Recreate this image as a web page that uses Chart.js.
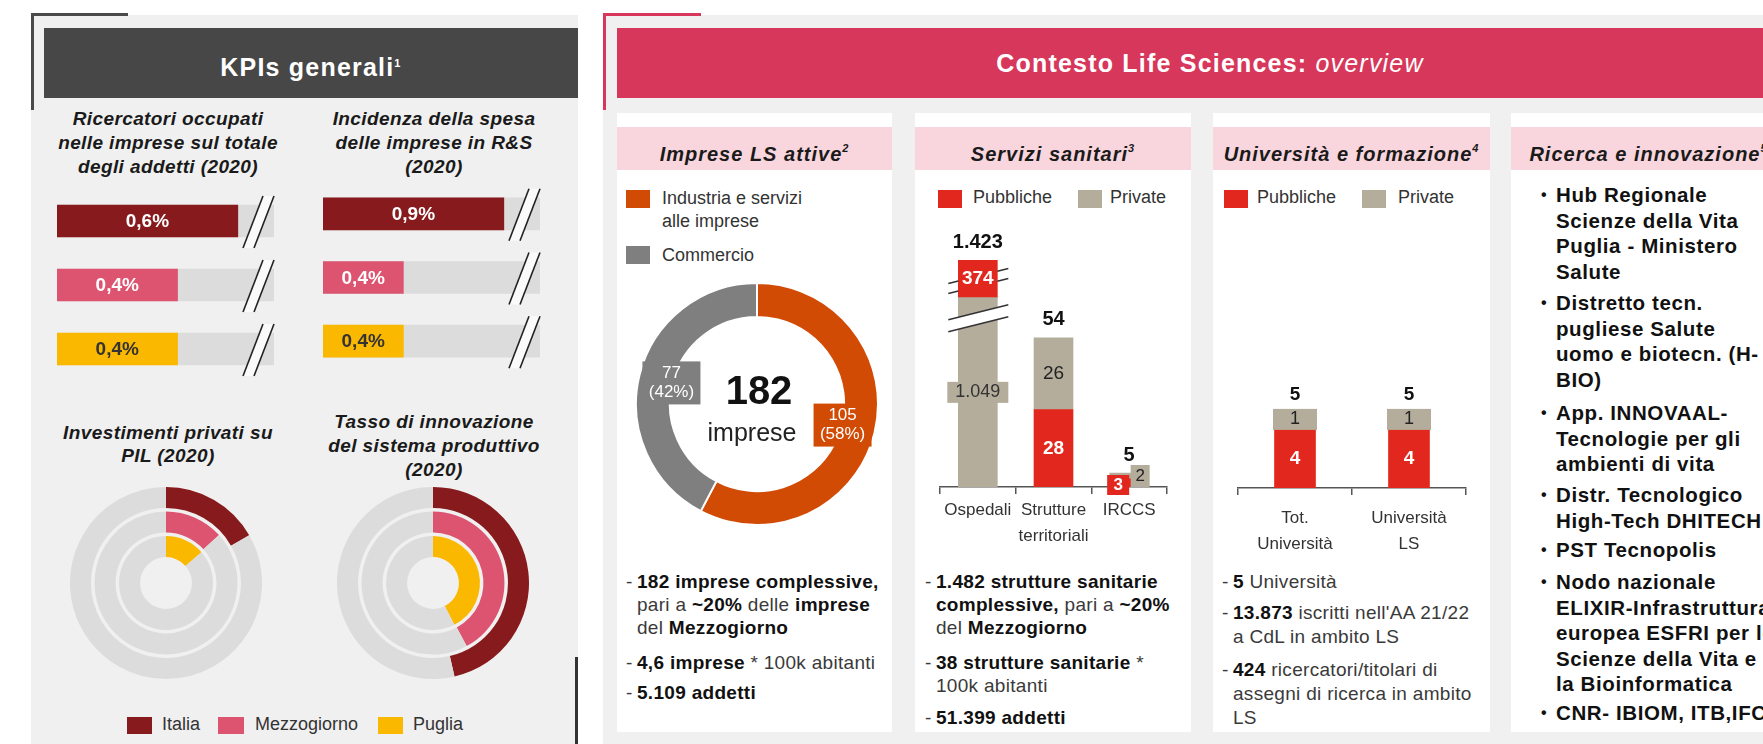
<!DOCTYPE html>
<html>
<head>
<meta charset="utf-8">
<script src="https://cdn.jsdelivr.net/npm/chart.js@4.4.0/dist/chart.umd.min.js"></script>
<style>
  body { margin: 0; background: #fff; font-family: "Liberation Sans", Arial, sans-serif; color: #1a1a1a; }
  #page { position: relative; width: 1763px; height: 744px; overflow: hidden; background: #fff; }
  .a { position: absolute; }
  canvas { position: absolute; }
  .panel { background: #f0f0f0; }
  .card { background: #fff; top: 113px; height: 619px; }
  .chead { position: absolute; top: 127px; height: 43px; line-height: 43px; background: #f9d6dd;
           text-align: center; font-weight: bold; font-style: italic; font-size: 20px; letter-spacing: 1px; white-space: nowrap; }
  .chead sup, .title sup { font-size: 11px; vertical-align: 9px; }
  .title { color: #fff; font-weight: bold; font-size: 25px; height: 70px; line-height: 70px; text-align: center; white-space: nowrap; letter-spacing: 1.2px; }
  .sub { font-weight: bold; font-style: italic; font-size: 19px; text-align: center; width: 270px; letter-spacing: 0.4px; }
  .sq { position: absolute; }
  .leg { position: absolute; font-size: 18px; color: #333; white-space: nowrap; }
  .b { position: absolute; font-size: 19px; line-height: 23px; padding-left: 11px; color: #3a3a3a; white-space: nowrap; letter-spacing: 0.3px; }
  .b b { color: #111; }
  .b .d { position: absolute; left: 0; top: 0; }
  .r { position: absolute; left: 1556px; font-size: 20.5px; font-weight: bold; line-height: 25.5px; color: #111; white-space: nowrap; letter-spacing: 0.6px; }
  .r .dot { position: absolute; left: -15px; top: 0; font-size: 16px; }
</style>
</head>
<body>
<div id="page">
  <!-- pannello KPI -->
  <div class="a panel" style="left:31px;top:15px;width:547px;height:729px"></div>
  <div class="a" style="left:31px;top:13px;width:97px;height:3px;background:#4a4a4a"></div>
  <div class="a" style="left:31px;top:13px;width:3px;height:97px;background:#4a4a4a"></div>
  <div class="a title" style="left:44px;top:28px;width:534px;background:#474747">KPIs generali<sup>1</sup></div>
  <div class="a" style="left:575px;top:657px;width:3px;height:87px;background:#333"></div>

  <div class="a sub" style="left:33px;top:107px;line-height:24px">Ricercatori occupati<br>nelle imprese sul totale<br>degli addetti (2020)</div>
  <div class="a sub" style="left:299px;top:107px;line-height:24px">Incidenza della spesa<br>delle imprese in R&amp;S<br>(2020)</div>
  <div class="a sub" style="left:33px;top:421px;line-height:23px">Investimenti privati su<br>PIL (2020)</div>
  <div class="a sub" style="left:299px;top:410px;line-height:24px">Tasso di innovazione<br>del sistema produttivo<br>(2020)</div>

  <canvas id="kpi1" width="225" height="192" style="left:57px;top:189px"></canvas>
  <canvas id="kpi2" width="225" height="191" style="left:323px;top:182px"></canvas>
  <canvas id="rad1" width="192" height="192" style="left:70px;top:487px"></canvas>
  <canvas id="rad2" width="192" height="192" style="left:337px;top:487px"></canvas>

  <div class="sq" style="left:127px;top:717px;width:25px;height:17px;background:#861a1c"></div>
  <div class="leg" style="left:162px;top:714px">Italia</div>
  <div class="sq" style="left:218px;top:717px;width:26px;height:17px;background:#dd5471"></div>
  <div class="leg" style="left:255px;top:714px">Mezzogiorno</div>
  <div class="sq" style="left:378px;top:717px;width:25px;height:17px;background:#fbb800"></div>
  <div class="leg" style="left:413px;top:714px">Puglia</div>

  <!-- pannello Life Sciences -->
  <div class="a panel" style="left:603px;top:15px;width:1160px;height:729px"></div>
  <div class="a" style="left:603px;top:13px;width:98px;height:3px;background:#d7375a"></div>
  <div class="a" style="left:603px;top:13px;width:3px;height:97px;background:#d7375a"></div>
  <div class="a" style="left:617px;top:28px;width:1146px;height:70px;background:#d7375a"></div>
  <div class="a title" style="left:617px;top:28px;width:1186px">Contesto Life Sciences: <span style="font-weight:normal;font-style:italic">overview</span></div>

  <div class="a card" style="left:617px;width:275px"></div>
  <div class="a card" style="left:915px;width:276px"></div>
  <div class="a card" style="left:1213px;width:277px"></div>
  <div class="a card" style="left:1511px;width:275px"></div>
  <div class="chead" style="left:617px;width:275px">Imprese LS attive<sup>2</sup></div>
  <div class="chead" style="left:915px;width:276px">Servizi sanitari<sup>3</sup></div>
  <div class="chead" style="left:1213px;width:277px">Università e formazione<sup>4</sup></div>
  <div class="chead" style="left:1511px;width:275px">Ricerca e innovazione<sup>5</sup></div>

  <!-- card 1 -->
  <div class="sq" style="left:626px;top:190px;width:24px;height:18px;background:#d14b05"></div>
  <div class="leg" style="left:662px;top:187px;line-height:23px">Industria e servizi<br>alle imprese</div>
  <div class="sq" style="left:626px;top:246px;width:24px;height:18px;background:#7f7f7f"></div>
  <div class="leg" style="left:662px;top:244px;line-height:23px">Commercio</div>
  <canvas id="donut" width="244" height="244" style="left:635px;top:282px"></canvas>
  <div class="b" style="left:626px;top:570px"><span class="d">-</span><b>182 imprese complessive,</b><br>pari a <b>~20%</b> delle <b>imprese</b><br>del <b>Mezzogiorno</b></div>
  <div class="b" style="left:626px;top:651px"><span class="d">-</span><b>4,6 imprese</b> * 100k abitanti</div>
  <div class="b" style="left:626px;top:681px"><span class="d">-</span><b>5.109 addetti</b></div>

  <!-- card 2 -->
  <div class="sq" style="left:938px;top:190px;width:24px;height:18px;background:#e2281e"></div>
  <div class="leg" style="left:973px;top:187px">Pubbliche</div>
  <div class="sq" style="left:1078px;top:190px;width:24px;height:18px;background:#b4ad9b"></div>
  <div class="leg" style="left:1110px;top:187px">Private</div>
  <canvas id="sanitari" width="251" height="321" style="left:928px;top:226px"></canvas>
  <div class="b" style="left:925px;top:570px"><span class="d">-</span><b>1.482 strutture sanitarie<br>complessive,</b> pari a <b>~20%</b><br>del <b>Mezzogiorno</b></div>
  <div class="b" style="left:925px;top:651px"><span class="d">-</span><b>38 strutture sanitarie</b> *<br>100k abitanti</div>
  <div class="b" style="left:925px;top:706px"><span class="d">-</span><b>51.399 addetti</b></div>

  <!-- card 3 -->
  <div class="sq" style="left:1224px;top:190px;width:24px;height:18px;background:#e2281e"></div>
  <div class="leg" style="left:1257px;top:187px">Pubbliche</div>
  <div class="sq" style="left:1362px;top:190px;width:24px;height:18px;background:#b4ad9b"></div>
  <div class="leg" style="left:1398px;top:187px">Private</div>
  <canvas id="uni" width="252" height="226" style="left:1226px;top:336px"></canvas>
  <div class="b" style="left:1222px;top:570px;line-height:24px"><span class="d">-</span><b>5</b> Università</div>
  <div class="b" style="left:1222px;top:601px;line-height:24px"><span class="d">-</span><b>13.873</b> iscritti nell'AA 21/22<br>a CdL in ambito LS</div>
  <div class="b" style="left:1222px;top:658px;line-height:24px"><span class="d">-</span><b>424</b> ricercatori/titolari di<br>assegni di ricerca in ambito<br>LS</div>

  <!-- card 4 -->
  <div class="r" style="top:182px"><span class="dot">•</span>Hub Regionale<br>Scienze della Vita<br>Puglia - Ministero<br>Salute</div>
  <div class="r" style="top:290px"><span class="dot">•</span>Distretto tecn.<br>pugliese Salute<br>uomo e biotecn. (H-<br>BIO)</div>
  <div class="r" style="top:400px"><span class="dot">•</span>App. INNOVAAL-<br>Tecnologie per gli<br>ambienti di vita</div>
  <div class="r" style="top:482px"><span class="dot">•</span>Distr. Tecnologico<br>High-Tech DHITECH</div>
  <div class="r" style="top:537px"><span class="dot">•</span>PST Tecnopolis</div>
  <div class="r" style="top:569px"><span class="dot">•</span>Nodo nazionale<br>ELIXIR-Infrastruttura<br>europea ESFRI per le<br>Scienze della Vita e<br>la Bioinformatica</div>
  <div class="r" style="top:700px"><span class="dot">•</span>CNR- IBIOM, ITB,IFC</div>
</div>

<script>
// dati KPI
var kpiCategorie = ['Italia', 'Mezzogiorno', 'Puglia'];
var kpiColori = ['#861a1c', '#dd5471', '#fbb800'];
var ricercatoriImprese = [0.6, 0.4, 0.4];
var spesaRS = [0.9, 0.4, 0.4];
var investimentiPIL = [16.7, 13.3, 13.6];
var tassoInnovazione = [46.4, 42.2, 42.5];

// dati Life Sciences
var impreseCategorie = ['Industria e servizi alle imprese', 'Commercio'];
var impreseValori = [105, 77];

var sanitariCategorie = ['Ospedali', ['Strutture', 'territoriali'], 'IRCCS'];
var sanitariPubbliche = [374, 28, 3];
var sanitariPrivate = [1049, 26, 2];

var uniCategorie = [['Tot.', 'Università'], ['Università', 'LS']];
var uniPubbliche = [4, 4];
var uniPrivate = [1, 1];

var colPubbliche = '#e2281e';
var colPrivate = '#b4ad9b';
var ringMax = 100;

Chart.defaults.font.family = '"Liberation Sans", Arial, sans-serif';
Chart.defaults.color = '#333';

function fmt(n) { return String(n).replace(/\B(?=(\d{3})+(?!\d))/g, '.'); }

function boxText(ctx, lines, cx, cy, w, h, bg, color, font, lh) {
    ctx.save();
    if (bg) { ctx.fillStyle = bg; ctx.fillRect(cx - w / 2, cy - h / 2, w, h); }
    ctx.fillStyle = color;
    ctx.font = font;
    ctx.textAlign = 'center';
    ctx.textBaseline = 'middle';
    var y0 = cy - (lines.length - 1) * lh / 2;
    lines.forEach(function (t, k) { ctx.fillText(t, cx, y0 + k * lh); });
    ctx.restore();
}

// asse con interruzione per gli Ospedali
var ospBreaks = [[0, 0], [60, 60], [1049, 68.5], [1423, 82]];
class BrokenScale extends Chart.LinearScale {
    getPixelForValue(value) {
        var v = value;
        for (var k = 1; k < ospBreaks.length; k++) {
            var p = ospBreaks[k - 1], q = ospBreaks[k];
            if (value <= q[0] || k === ospBreaks.length - 1) {
                v = p[1] + (value - p[0]) * (q[1] - p[1]) / (q[0] - p[0]);
                break;
            }
        }
        return super.getPixelForValue(v);
    }
}
BrokenScale.id = 'broken';
BrokenScale.defaults = Chart.LinearScale.defaults;
Chart.register(BrokenScale);

/////////////////////////////////////////////////////////////////
// barre KPI
var kpiPlugin = {
    id: 'kpiPlugin',
    afterDatasetsDraw: function (chart) {
        var ctx = chart.ctx;
        var vals = chart.getDatasetMeta(0).data;
        var tracks = chart.getDatasetMeta(1).data;
        vals.forEach(function (bar, i) {
            var t = tracks[i], T = t.x;
            var top = t.y - 25, bot = t.y + 27;
            ctx.save();
            ctx.fillStyle = '#fafafa';
            ctx.beginPath();
            ctx.moveTo(T - 31, bot); ctx.lineTo(T - 11, top); ctx.lineTo(T, top); ctx.lineTo(T - 20, bot);
            ctx.closePath(); ctx.fill();
            ctx.strokeStyle = '#222'; ctx.lineWidth = 1.6;
            ctx.beginPath(); ctx.moveTo(T - 31, bot); ctx.lineTo(T - 11, top); ctx.stroke();
            ctx.beginPath(); ctx.moveTo(T - 20, bot); ctx.lineTo(T, top); ctx.stroke();
            ctx.restore();
            var v = chart.data.datasets[0].data[i];
            boxText(ctx, [v.toFixed(1).replace('.', ',') + '%'], (bar.base + bar.x) / 2, bar.y + 1, 0, 0, null,
                i === 2 ? '#333' : '#fff', 'bold 19px "Liberation Sans"', 20);
        });
    }
};

function kpiBar(id, values, max) {
    return new Chart(document.getElementById(id), {
        type: 'bar',
        data: {
            labels: kpiCategorie,
            datasets: [
                { data: values, backgroundColor: kpiColori, barThickness: 32, grouped: false, order: 0 },
                { data: kpiCategorie.map(function () { return max; }), backgroundColor: '#dcdcdc', barThickness: 32, grouped: false, order: 1 }
            ]
        },
        options: {
            indexAxis: 'y', responsive: false, animation: false, devicePixelRatio: 1,
            layout: { padding: { right: 8 } },
            plugins: { legend: { display: false }, tooltip: { enabled: false } },
            scales: { x: { display: false, min: 0, max: max }, y: { display: false } }
        },
        plugins: [kpiPlugin]
    });
}
kpiBar('kpi1', ricercatoriImprese, 0.72);
kpiBar('kpi2', spesaRS, 1.08);

// anelli KPI
function radial(id, values) {
    var ds = [];
    values.forEach(function (v, i) {
        if (i > 0) ds.push({ data: [1], backgroundColor: ['rgba(0,0,0,0)'], borderWidth: 0, weight: 1 });
        ds.push({ data: [v, ringMax - v], backgroundColor: [kpiColori[i], '#dcdcdc'], borderWidth: 0, weight: 6 });
    });
    return new Chart(document.getElementById(id), {
        type: 'doughnut',
        data: { labels: ['valore', 'resto'], datasets: ds },
        options: {
            responsive: false, animation: false, devicePixelRatio: 1, cutout: '27%',
            plugins: { legend: { display: false }, tooltip: { enabled: false } }
        }
    });
}
radial('rad1', investimentiPIL);
radial('rad2', tassoInnovazione);

/////////////////////////////////////////////////////////////////
// Imprese LS attive
var donutPlugin = {
    id: 'donutPlugin',
    afterDatasetsDraw: function (chart) {
        var ctx = chart.ctx;
        var arcs = chart.getDatasetMeta(0).data;
        var vals = chart.data.datasets[0].data;
        var tot = vals.reduce(function (a, b) { return a + b; }, 0);
        var bg = ['#d14b05', '#7f7f7f'];
        arcs.forEach(function (arc, i) {
            var mid = (arc.startAngle + arc.endAngle) / 2;
            var r = arc.innerRadius + 1;
            var cx = arc.x + Math.cos(mid) * r, cy = arc.y + Math.sin(mid) * r;
            boxText(ctx, [String(vals[i]), '(' + Math.round(vals[i] / tot * 100) + '%)'], cx, cy, 58, 43, bg[i],
                '#fff', '17px "Liberation Sans"', 19);
        });
        var c = arcs[0];
        boxText(ctx, [String(tot)], c.x + 2, c.y - 11, 0, 0, null, '#111', 'bold 40px "Liberation Sans"', 40);
        boxText(ctx, ['imprese'], c.x - 5, c.y + 30, 0, 0, null, '#222', '25px "Liberation Sans"', 25);
    }
};
new Chart(document.getElementById('donut'), {
    type: 'doughnut',
    data: {
        labels: impreseCategorie,
        datasets: [{ data: impreseValori, backgroundColor: ['#d14b05', '#7f7f7f'], borderColor: '#fff', borderWidth: 2 }]
    },
    options: {
        responsive: false, animation: false, devicePixelRatio: 1, cutout: '72%',
        plugins: { legend: { display: false }, tooltip: { enabled: false } }
    },
    plugins: [donutPlugin]
});

// asse categorie comune
function catAxis(pad, h) {
    return {
        stacked: true,
        grid: { display: true, offset: true, drawOnChartArea: false, drawTicks: true, tickLength: 7, color: '#555', lineWidth: 1.5 },
        border: { display: true, color: '#555', width: 1.5 },
        ticks: { color: '#333', font: { size: 17, lineHeight: 1.55 }, padding: pad, maxRotation: 0, autoSkip: false },
        afterFit: function (s) { s.height = h; }
    };
}

function breakLines(ctx, x0, x1, cy, gap, rise, skipFrom, skipTo, fill) {
    ctx.save();
    var yAt = function (x, s) { return cy + rise / 2 - (x - x0) / (x1 - x0) * rise + s; };
    if (fill) {
        ctx.fillStyle = '#fff';
        ctx.beginPath();
        ctx.moveTo(x0, yAt(x0, -gap)); ctx.lineTo(x1, yAt(x1, -gap));
        ctx.lineTo(x1, yAt(x1, gap)); ctx.lineTo(x0, yAt(x0, gap));
        ctx.closePath(); ctx.fill();
    }
    ctx.strokeStyle = '#333'; ctx.lineWidth = 1.5;
    [-gap, gap].forEach(function (s) {
        var segs = skipFrom == null ? [[x0, x1]] : [[x0, skipFrom], [skipTo, x1]];
        segs.forEach(function (g) {
            ctx.beginPath(); ctx.moveTo(g[0], yAt(g[0], s)); ctx.lineTo(g[1], yAt(g[1], s)); ctx.stroke();
        });
    });
    ctx.restore();
}

// Servizi sanitari
var sanitariPlugin = {
    id: 'sanitariPlugin',
    afterDatasetsDraw: function (chart) {
        var ctx = chart.ctx;
        var pubB = chart.getDatasetMeta(0).data, priv = chart.getDatasetMeta(1).data, pubT = chart.getDatasetMeta(2).data;
        var yS = chart.scales.y;
        var bold = 'bold 19px "Liberation Sans"', reg = '19px "Liberation Sans"';
        // Ospedali
        var o = priv[0], or = pubT[0];
        var L = o.x - o.width / 2, R = o.x + o.width / 2;
        breakLines(ctx, L - 10, R + 11, yS.getPixelForValue(60) - 3, 6, 15, null, null, true);
        breakLines(ctx, L - 10, R + 11, (or.y + or.base) / 2 + 2, 5, 15, L, R, false);
        boxText(ctx, [fmt(sanitariPubbliche[0])], or.x, (or.y + or.base) / 2, 0, 0, null, '#fff', bold, 20);
        boxText(ctx, [fmt(sanitariPrivate[0])], o.x, (o.y + o.base) / 2, 61, 21, colPrivate, '#333', '18px "Liberation Sans"', 20);
        // Strutture territoriali
        boxText(ctx, [String(sanitariPubbliche[1])], pubB[1].x, (pubB[1].y + pubB[1].base) / 2, 0, 0, null, '#fff', bold, 20);
        boxText(ctx, [String(sanitariPrivate[1])], priv[1].x, (priv[1].y + priv[1].base) / 2, 0, 0, null, '#222', reg, 20);
        // IRCCS
        var ir = pubB[2];
        boxText(ctx, [String(sanitariPubbliche[2])], ir.x - 11, ir.base - 2, 22, 20, colPubbliche, '#fff', 'bold 17px "Liberation Sans"', 20);
        boxText(ctx, [String(sanitariPrivate[2])], ir.x + 11, ir.base - 11, 19, 22, colPrivate, '#222', '17px "Liberation Sans"', 20);
        // totali
        [0, 1, 2].forEach(function (i) {
            var tot = sanitariPubbliche[i] + sanitariPrivate[i];
            var top = Math.min(priv[i].y, i === 0 ? pubT[0].y : pubB[i].y);
            var y = i === 2 ? ir.base - 32 : top - 18;
            boxText(ctx, [fmt(tot)], priv[i].x, y, 0, 0, null, '#111', 'bold 20px "Liberation Sans"', 20);
        });
    }
};
new Chart(document.getElementById('sanitari'), {
    type: 'bar',
    data: {
        labels: sanitariCategorie,
        datasets: [
            { label: 'Pubbliche', data: sanitariPubbliche.map(function (v, i) { return i === 0 ? null : v; }), backgroundColor: colPubbliche },
            { label: 'Private', data: sanitariPrivate, backgroundColor: colPrivate },
            { label: 'Pubbliche', data: sanitariPubbliche.map(function (v, i) { return i === 0 ? v : null; }), backgroundColor: colPubbliche }
        ]
    },
    options: {
        responsive: false, animation: false, devicePixelRatio: 1,
        layout: { padding: { top: 4, left: 12, right: 12 } },
        datasets: { bar: { barThickness: 39 } },
        plugins: { legend: { display: false }, tooltip: { enabled: false } },
        scales: {
            x: catAxis(3, 60),
            y: { type: 'broken', stacked: true, display: false, min: 0, max: 93 }
        }
    },
    plugins: [sanitariPlugin]
});

// Università e formazione
var uniPlugin = {
    id: 'uniPlugin',
    afterDatasetsDraw: function (chart) {
        var ctx = chart.ctx;
        var pub = chart.getDatasetMeta(0).data, priv = chart.getDatasetMeta(1).data;
        pub.forEach(function (b, i) {
            var p = priv[i];
            boxText(ctx, [String(uniPubbliche[i])], b.x, (b.y + b.base) / 2, 0, 0, null, '#fff', 'bold 19px "Liberation Sans"', 20);
            boxText(ctx, [String(uniPrivate[i])], p.x, (p.y + p.base) / 2 - 2, 44, 21, colPrivate, '#222', '18px "Liberation Sans"', 20);
            boxText(ctx, [String(uniPubbliche[i] + uniPrivate[i])], p.x, p.y - 19, 0, 0, null, '#111', 'bold 19px "Liberation Sans"', 20);
        });
    }
};
new Chart(document.getElementById('uni'), {
    type: 'bar',
    data: {
        labels: uniCategorie,
        datasets: [
            { label: 'Pubbliche', data: uniPubbliche, backgroundColor: colPubbliche },
            { label: 'Private', data: uniPrivate, backgroundColor: colPrivate }
        ]
    },
    options: {
        responsive: false, animation: false, devicePixelRatio: 1,
        layout: { padding: { top: 4, left: 12, right: 12 } },
        datasets: { bar: { barThickness: 41 } },
        plugins: { legend: { display: false }, tooltip: { enabled: false } },
        scales: {
            x: catAxis(10, 74),
            y: { stacked: true, display: false, min: 0, max: 10 }
        }
    },
    plugins: [uniPlugin]
});
</script>
</body>
</html>
